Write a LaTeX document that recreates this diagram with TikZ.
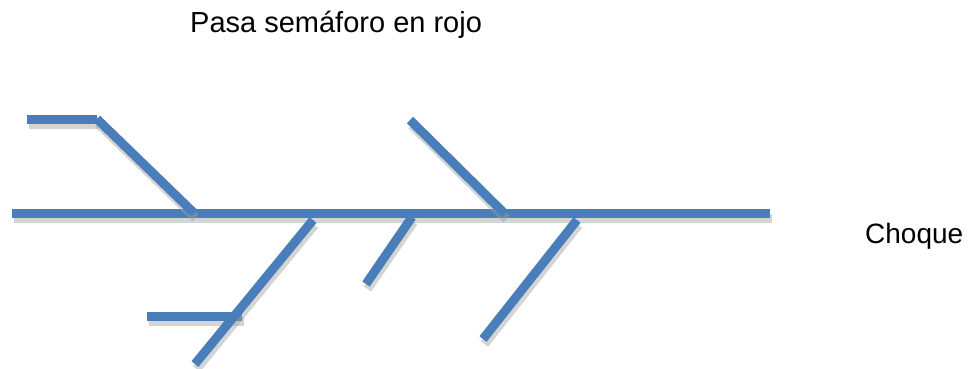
\documentclass[tikz,border=0pt]{standalone}
\usepackage{fontspec}
\setmainfont{Liberation Sans}
\definecolor{boneblue}{HTML}{4A7EBB}
\definecolor{shadowgray}{HTML}{A0A0A0}
\tikzset{
  bone/.style={line width=9, draw=boneblue, line cap=butt},
  boneshadow/.style={line width=9, draw=shadowgray, opacity=0.45, line cap=butt},
  lbl/.style={anchor=base west, inner sep=0, font=\fontsize{29}{33}\selectfont},
  lblsmall/.style={lbl, font=\fontsize{28}{32}\selectfont}
}
\newcommand{\fishbone}[2]{%
  \draw[boneshadow] ([shift={(1.5,5)}]#1) -- ([shift={(1.5,5)}]#2);
  \draw[bone] (#1) -- (#2);}
\begin{document}
\begin{tikzpicture}[x=1pt,y=-1pt]
\useasboundingbox (0,0) rectangle (969,368);
% spine
\coordinate (s1) at (12,213);
\coordinate (s2) at (770,213);
% upper-left branch
\coordinate (ul1) at (27,119);
\coordinate (ul2) at (97,119);
\coordinate (ul3) at (194,213);
% upper-middle branch
\coordinate (um1) at (410,120);
\coordinate (um2) at (505,214);
% lower-left branch
\coordinate (ll1) at (313,220);
\coordinate (ll2) at (195,364);
\coordinate (lh1) at (147,316);
\coordinate (lh2) at (242,316);
% short lower branch
\coordinate (sb1) at (412,217);
\coordinate (sb2) at (366,284);
% lower-right branch
\coordinate (lr1) at (577,220);
\coordinate (lr2) at (483,339);

\fishbone{s1}{s2}
\fishbone{ul1}{ul2}
\fishbone{ul2}{ul3}
\fishbone{um1}{um2}
\fishbone{lh1}{lh2}
\fishbone{ll1}{ll2}
\fishbone{sb1}{sb2}
\fishbone{lr1}{lr2}

\node[lbl] (cause) at (190,32) {Pasa semáforo en rojo};
\node[lblsmall] (effect) at (865,243) {Choque};
\end{tikzpicture}
\end{document}
